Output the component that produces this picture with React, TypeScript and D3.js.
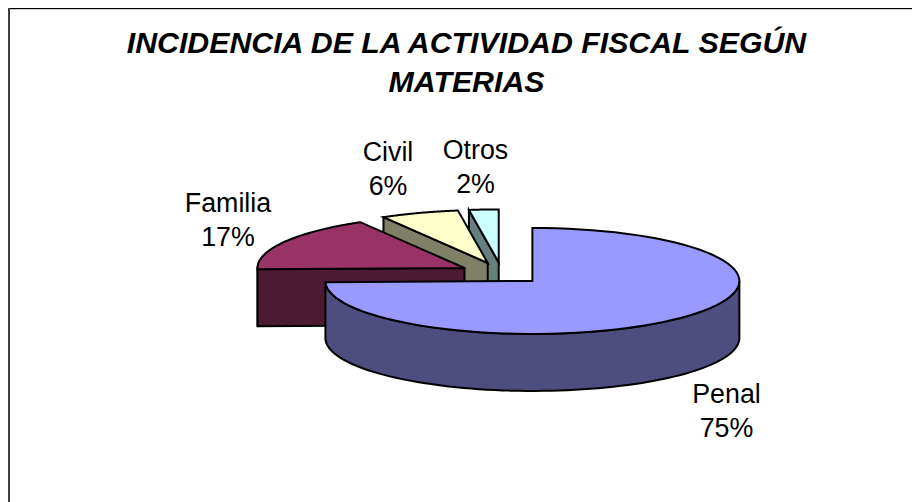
import React from "react";
import * as d3 from "d3";

const categories = ["Penal", "Familia", "Civil", "Otros"];
const values = [74.6, 17, 6.1, 2.3];
const topColors = ["#9999FF", "#993366", "#FFFFCC", "#CCFFFF"];
const wallColors = ["#4D4D80", "#4D1A33", "#808066", "#668080"];
const titleLines = ["INCIDENCIA DE LA ACTIVIDAD FISCAL SEGÚN", "MATERIAS"];
const labelAnchors: [number, number][] = [[726.5, 403], [228, 212], [388, 161], [475.5, 158.5]];

const W = 912, H = 502;
const CX = 501.8, CY = 273.3, RX = 207, RY = 53, DEPTH = 57, EXPLODE = 42.7;
const FONT = "'Liberation Sans', Arial, sans-serif";

const pie = d3.pie<number>().sort(null).startAngle(0).endAngle(2 * Math.PI);
const slices = pie(values);

const sx = d3.scaleLinear().domain([-1, 1]).range([-RX, RX]);
const sy = d3.scaleLinear().domain([-1, 1]).range([-RY, RY]);
const pt = (o: [number, number], a: number, dy = 0): [number, number] => [
  o[0] + sx(Math.sin(a)),
  o[1] - sy(Math.cos(a)) + dy,
];

function arcPath(o: [number, number], a0: number, a1: number, dy: number, n = 80) {
  const pts: [number, number][] = d3.range(n + 1).map((i) => pt(o, a0 + ((a1 - a0) * i) / n, dy));
  return pts;
}
const line = d3.line();

export default function App() {
  const parts = slices.map((s, i) => {
    const mid = (s.startAngle + s.endAngle) / 2;
    const o: [number, number] = [
      CX + sx(Math.sin(mid)) * (EXPLODE / RX),
      CY - sy(Math.cos(mid)) * (EXPLODE / RX),
    ];
    const top = line([o, ...arcPath(o, s.startAngle, s.endAngle, 0)])! + "Z";
    const walls: string[] = [];
    const a0 = Math.max(s.startAngle, Math.PI / 2);
    const a1 = Math.min(s.endAngle, (3 * Math.PI) / 2 + 0.02);
    if (a1 > a0) {
      walls.push(line([...arcPath(o, a0, a1, 0), ...arcPath(o, a1, a0, DEPTH)])! + "Z");
    }
    if (i > 0) {
      const e = pt(o, s.startAngle);
      walls.push(line([o, e, [e[0], e[1] + DEPTH], [o[0], o[1] + DEPTH]])! + "Z");
    }
    return { i, top, walls };
  });
  const order = [3, 2, 1, 0];
  return (
    <svg width={W} height={H} style={{ position: "absolute", left: 0, top: 0 }}>
      <rect x={0} y={0} width={W} height={H} fill="#fff" />
      <line x1={8} x2={W} y1={9.5} y2={9.5} stroke="#ccc" strokeWidth={1} />
      <line x1={8} x2={W} y1={8.5} y2={8.5} stroke="#000" strokeWidth={1} />
      <line x1={9} x2={9} y1={8} y2={H} stroke="#404040" strokeWidth={2} />
      {titleLines.map((t, i) => (
        <text key={t} x={466.5} y={53 + i * 38.5} textAnchor="middle" fontFamily={FONT} fontSize={30.3} fontWeight="bold" fontStyle="italic" fill="#000">
          {t}
        </text>
      ))}
      {order.map((k) => {
        const p = parts[k];
        return (
          <g key={k} stroke="#000" strokeWidth={2} strokeLinejoin="miter">
            {p.walls.map((d, j) => (
              <path key={j} d={d} fill={wallColors[k]} />
            ))}
            <path d={p.top} fill={topColors[k]} />
          </g>
        );
      })}
      {categories.map((c, i) => (
        <text key={c} x={labelAnchors[i][0]} y={labelAnchors[i][1]} textAnchor="middle" fontFamily={FONT} fontSize={26.8} fill="#000">
          <tspan x={labelAnchors[i][0]}>{c}</tspan>
          <tspan x={labelAnchors[i][0]} dy={34}>{`${Math.round(values[i])}%`}</tspan>
        </text>
      ))}
    </svg>
  );
}
